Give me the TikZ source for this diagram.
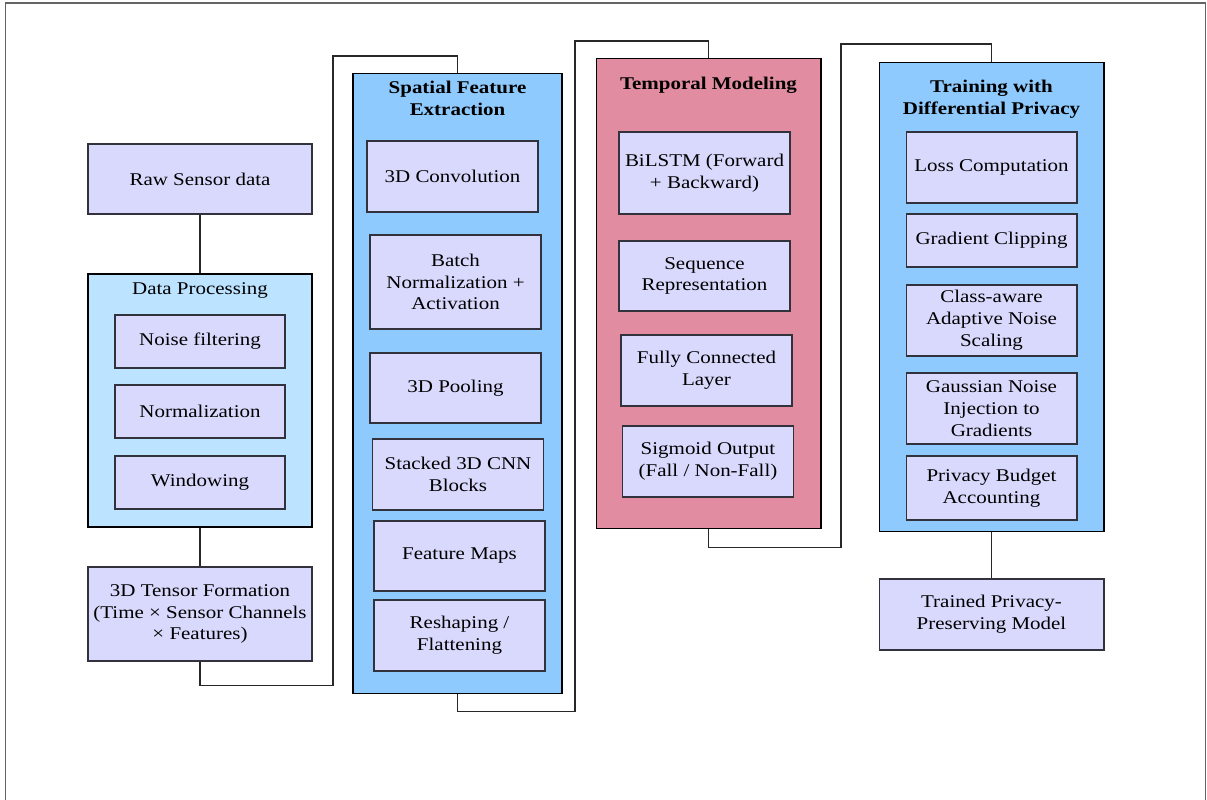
\documentclass[tikz,border=0pt]{standalone}
\usepackage{fontspec}
\setmainfont{Liberation Serif}[FakeStretch=1.17]
\usepackage{xcolor}
\usepackage{tikz}
\definecolor{subfill}{RGB}{217,217,253}
\definecolor{procfill}{RGB}{188,227,255}
\definecolor{featfill}{RGB}{143,202,254}
\definecolor{tempfill}{RGB}{225,140,160}
\definecolor{boxline}{RGB}{50,50,60}
\definecolor{linkgray}{RGB}{40,40,40}
\definecolor{framegray}{RGB}{100,100,100}
\newcommand{\fs}{\fontsize{10.2pt}{12.4pt}\selectfont}
\tikzset{
  sub box/.style={draw=boxline, fill=subfill, line width=0.6pt,
                  inner sep=1pt, align=center, font=\fs},
  group box/.style={draw=black, line width=0.6pt, inner sep=0pt},
  group title/.style={align=center, font=\fs\bfseries},
  link/.style={draw=linkgray, line width=0.6pt},
}

\begin{document}
\begin{tikzpicture}[x=0.02cm, y=-0.02cm]
\useasboundingbox (0,0) rectangle (1207,800);
\draw[framegray, line width=0.7pt] (5.5,800) |- (1205.5,3) -- (1205.5,800);
% Input side: raw data, preprocessing, tensor
\node[sub box, minimum width=4.48cm, minimum height=1.4cm] (raw) at (200,179) {Raw Sensor data};
\node[group box, fill=procfill, minimum width=4.48cm, minimum height=5.06cm] (dproc) at (200,400.5) {};
\node[font=\fs] (dproc title) at (200,291) {Data Processing};
\foreach \n/\t/\y in {noise/Noise filtering/341.5, norm/Normalization/411.5, window/Windowing/482.5}
  \node[sub box, minimum width=3.4cm, minimum height=1.06cm] (\n) at (200,\y) {\t};
\node[sub box, minimum width=4.48cm, minimum height=1.88cm] (tensor) at (200,614)
  {3D Tensor Formation\\(Time × Sensor Channels\\× Features)};
% Spatial block
\node[group box, fill=featfill, minimum width=4.18cm, minimum height=12.42cm] (spatial) at (457.5,383.5) {};
\node[group title] (spatial title) at (457.5,98) {Spatial Feature\\Extraction};
\foreach \n/\x/\y/\h/\t in {%
  conv/452.5/176.5/71/3D Convolution,
  bn/455.5/282/94/{Batch\\Normalization +\\Activation},
  pool/455.5/388/70/3D Pooling,
  stack/458/474.5/71/{Stacked 3D CNN\\Blocks},
  fmaps/459.5/556/70/Feature Maps,
  reshape/459.5/635.5/71/{Reshaping /\\Flattening}%
}
  \node[sub box, minimum width=3.42cm, minimum height=\h*0.02cm] (\n) at (\x,\y) {\t};
% Temporal block
\node[group box, fill=tempfill, minimum width=4.5cm, minimum height=9.42cm] (temporal) at (708.5,293.5) {};
\node[group title] (temporal title) at (708.5,85) {Temporal Modeling};
\foreach \n/\x/\y/\h/\t in {%
  bilstm/704.5/173/82/{BiLSTM (Forward\\+ Backward)},
  seqrep/704.5/276/70/{Sequence\\Representation},
  fc/706.5/370.5/71/{Fully Connected\\Layer},
  sigmoid/708/461.5/71/{Sigmoid Output\\(Fall / Non-Fall)}%
}
  \node[sub box, minimum width=3.42cm, minimum height=\h*0.02cm] (\n) at (\x,\y) {\t};
% DP training block
\node[group box, fill=featfill, minimum width=4.5cm, minimum height=9.4cm] (training) at (991.5,297) {};
\node[group title] (training title) at (991.5,99) {Training with\\Differential Privacy};
\foreach \n/\y/\h/\t in {%
  loss/167.5/71/Loss Computation,
  clip/240.5/53/Gradient Clipping,
  scale/320.5/71/{Class-aware\\Adaptive Noise\\Scaling},
  gauss/408.5/71/{Gaussian Noise\\Injection to\\Gradients},
  budget/488/64/{Privacy Budget\\Accounting}%
}
  \node[sub box, minimum width=3.42cm, minimum height=\h*0.02cm] (\n) at (991.5,\y) {\t};
\node[sub box, minimum width=4.5cm, minimum height=1.42cm] (trained) at (991.5,614.5)
  {Trained Privacy-\\Preserving Model};
% connectors
\coordinate (hop a) at (333,56);
\coordinate (hop b) at (575,41);
\coordinate (hop c) at (841,44);
\draw[link] (raw) -- (dproc);
\draw[link] (dproc) -- (tensor);
\draw[link] (tensor.south) -- ++(0,24) -| (hop a) -| (spatial.north);
\draw[link] (spatial.south) -- ++(0,17) -| (hop b) -| (temporal.north);
\draw[link] (temporal.south) -- ++(0,18) -| (hop c) -| (training.north);
\draw[link] (training) -- (trained);
\end{tikzpicture}
\end{document}
